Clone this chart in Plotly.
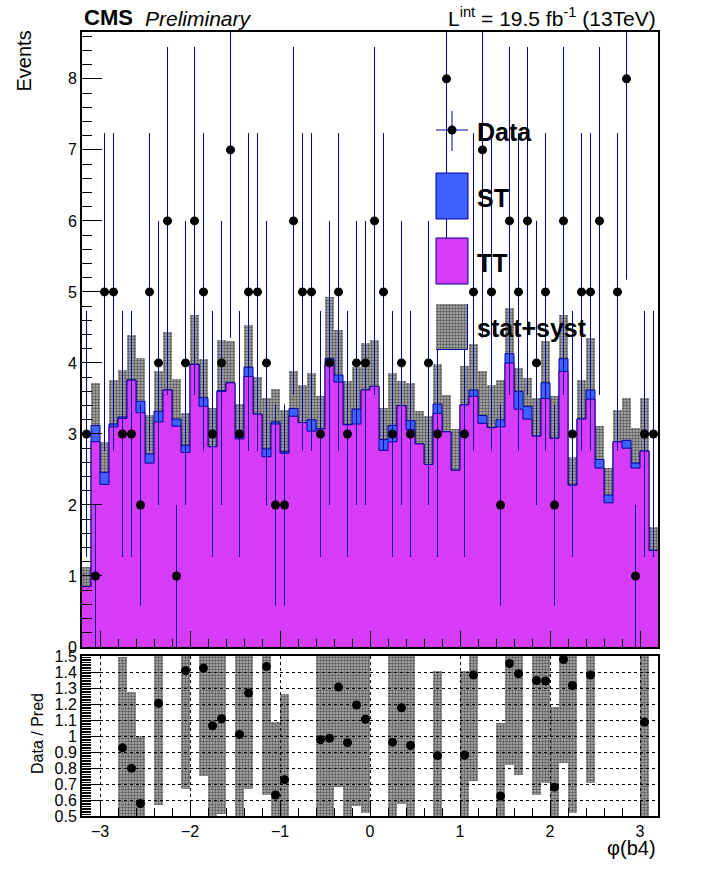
import numpy as np
import plotly.graph_objects as go

W, H = 716, 872

# binning of phi(b4)
x_lo, x_hi, n_bins = -3.2, 3.2, 64

# observed events per bin
data_counts = [3, 1, 5, 5, 3, 3, 2, 5, 4, 6,
               1, 4, 6, 5, 3, 4, 7, 3, 5, 5,
               4, 2, 2, 6, 5, 5, 3, 4, 5, 3,
               4, 4, 6, 5, 3, 4, 3, 0, 4, 3,
               8, 0, 3, 5, 7, 5, 2, 6, 5, 6,
               4, 5, 2, 6, 3, 5, 5, 6, 0, 5,
               8, 1, 3, 3]

# TT prediction per bin
tt_yield = [0.85, 2.89, 2.29, 3.10, 3.22, 3.76, 3.30, 2.59, 3.17, 3.62,
            3.11, 2.74, 3.98, 3.39, 2.82, 3.60, 3.72, 2.93, 3.81, 3.28,
            2.68, 3.14, 2.73, 3.25, 3.16, 3.04, 3.07, 3.98, 3.73, 3.13,
            3.14, 3.62, 3.67, 2.77, 2.89, 3.40, 3.06, 2.86, 2.57, 3.29,
            3.03, 2.49, 3.41, 3.53, 3.15, 3.09, 3.10, 4.00, 3.35, 3.21,
            2.97, 3.50, 2.94, 3.88, 2.28, 3.21, 3.49, 2.52, 2.03, 2.89,
            2.80, 2.52, 2.76, 1.36]

# ST prediction per bin (stacked on TT)
st_yield = [0.00, 0.23, 0.17, 0.04, 0.02, 0.00, 0.16, 0.13, 0.15, 0.00,
            0.10, 0.10, 0.00, 0.12, 0.00, 0.01, 0.00, 0.04, 0.13, 0.00,
            0.11, 0.03, 0.02, 0.11, 0.00, 0.16, 0.00, 0.08, 0.10, 0.00,
            0.21, 0.00, 0.00, 0.15, 0.23, 0.00, 0.13, 0.00, 0.00, 0.13,
            0.00, 0.00, 0.00, 0.09, 0.11, 0.00, 0.10, 0.13, 0.25, 0.18,
            0.00, 0.22, 0.00, 0.18, 0.00, 0.00, 0.13, 0.12, 0.11, 0.00,
            0.11, 0.07, 0.00, 0.00]

# stat+syst uncertainty on the total prediction
mc_unc = [0.28, 0.60, 0.43, 0.62, 0.66, 0.63, 0.61, 0.55, 0.57, 0.82,
          0.56, 0.45, 0.69, 0.54, 0.54, 0.71, 0.59, 0.45, 0.59, 0.52,
          0.71, 0.46, 0.59, 0.53, 0.53, 0.66, 0.47, 0.87, 0.63, 0.62,
          0.59, 0.66, 0.66, 0.44, 0.74, 0.34, 0.53, 0.46, 0.68, 0.56,
          0.52, 0.58, 0.54, 0.64, 0.62, 0.60, 0.56, 0.65, 0.33, 0.40,
          0.53, 0.59, 0.59, 0.62, 0.40, 0.55, 0.73, 0.47, 0.38, 0.45,
          0.60, 0.49, 0.75, 0.33]

ratio_ticks = [0.5, 0.6, 0.7, 0.8, 0.9, 1.0, 1.1, 1.2, 1.3, 1.4, 1.5]
ratio_tick_text = ["0.5", "0.6", "0.7", "0.8", "0.9", "1", "1.1", "1.2", "1.3", "1.4", "1.5"]

FONT = "Liberation Sans, Arial, Helvetica, sans-serif"
C_TT = "#d63cf8"
C_ST = "#3f62ff"
C_LINE = "#00009a"


def px(x):
    # window pixel -> paper coordinate
    return x / W


def py(y):
    return 1 - y / H


edges = np.linspace(x_lo, x_hi, n_bins + 1)
centers = 0.5 * (edges[:-1] + edges[1:])
bw = edges[1] - edges[0]

data = np.array(data_counts, dtype=float)
tt = np.array(tt_yield)
st = np.array(st_yield)
unc = np.array(mc_unc)
total = tt + st

# ROOT-like dotted hatch
pattern = dict(shape=".", fgcolor="black", bgcolor="rgba(0,0,0,0.3)", size=3, solidity=0.5)

fig = go.Figure()

# stacked prediction, drawn as filled step histograms
fig.add_trace(go.Scatter(
    x=edges, y=np.append(total, total[-1]), mode="lines", line_shape="hv",
    line=dict(color=C_LINE, width=1), fill="tozeroy", fillcolor=C_ST,
    hoverinfo="skip", showlegend=False))
fig.add_trace(go.Scatter(
    x=edges, y=np.append(tt, tt[-1]), mode="lines", line_shape="hv",
    line=dict(color=C_LINE, width=1), fill="tozeroy", fillcolor=C_TT,
    hoverinfo="skip", showlegend=False))

# stat+syst band
fig.add_trace(go.Bar(
    x=centers, y=2 * unc, base=total - unc, width=bw,
    marker=dict(color="rgba(0,0,0,0)", line=dict(width=0), pattern=pattern),
    hoverinfo="skip", showlegend=False))

# data
has = data > 0
fig.add_trace(go.Scatter(
    x=centers[has], y=data[has], mode="markers",
    marker=dict(color="black", size=9),
    error_y=dict(type="data", array=np.sqrt(data[has]), color=C_LINE, thickness=1, width=0),
    error_x=dict(type="constant", value=bw / 2, color=C_LINE, thickness=1, width=0),
    showlegend=False))

# ratio panel
ratio = np.where(has, data / total, 0.0)
rel = np.sqrt(np.where(has, 1.0 / np.maximum(data, 1), 0.0) + (unc / total) ** 2)
inr = has & (ratio >= 0.5) & (ratio <= 1.5)
fig.add_trace(go.Bar(
    x=centers[inr], y=2 * ratio[inr] * rel[inr], base=ratio[inr] * (1 - rel[inr]), width=bw,
    marker=dict(color="rgba(0,0,0,0)", line=dict(width=0), pattern=pattern),
    xaxis="x2", yaxis="y2", hoverinfo="skip", showlegend=False))
fig.add_trace(go.Scatter(
    x=centers[inr], y=ratio[inr], mode="markers", marker=dict(color="black", size=9),
    xaxis="x2", yaxis="y2", cliponaxis=False, showlegend=False))

# legend swatch for the band
fig.add_trace(go.Bar(
    x=[0.5], y=[1], width=1,
    marker=dict(color="rgba(0,0,0,0)", line=dict(width=1, color=C_LINE), pattern=pattern),
    xaxis="x3", yaxis="y3", hoverinfo="skip", showlegend=False))

axis_common = dict(showline=True, mirror=True, linecolor="black", linewidth=2,
                   ticks="inside", tickcolor="black", tickwidth=1, zeroline=False,
                   automargin=False, tickfont=dict(family=FONT, size=16, color="black"))

xdom = [px(82), px(658)]

fig.update_layout(
    width=W, height=H, margin=dict(l=0, r=0, t=0, b=0, pad=0, autoexpand=False),
    paper_bgcolor="white", plot_bgcolor="white", showlegend=False,
    barmode="overlay", bargap=0,
    font=dict(family=FONT, color="black"),
    xaxis=dict(domain=xdom, range=[x_lo, x_hi], anchor="y", showticklabels=False,
               dtick=1, tick0=0, ticklen=16, showgrid=False,
               minor=dict(dtick=0.2, tick0=0, ticks="inside", ticklen=8, tickcolor="black", showgrid=False),
               **axis_common),
    yaxis=dict(domain=[py(647), py(32)], range=[0, 8.66], anchor="x",
               dtick=1, ticklen=20, showgrid=False,
               minor=dict(dtick=0.2, ticks="inside", ticklen=10, tickcolor="black", showgrid=False),
               **axis_common),
    xaxis2=dict(domain=xdom, range=[x_lo, x_hi], anchor="y2",
                dtick=1, tick0=0, ticklen=16, showgrid=True, gridcolor="black",
                griddash="dot", gridwidth=1,
                minor=dict(dtick=0.2, tick0=0, ticks="inside", ticklen=8, tickcolor="black", showgrid=False),
                **axis_common),
    yaxis2=dict(domain=[py(816), py(656)], range=[0.5, 1.5], anchor="x2",
                tickvals=ratio_ticks, ticktext=ratio_tick_text, ticklen=18,
                showgrid=True, gridcolor="black", griddash="dot", gridwidth=1,
                minor=dict(dtick=0.01, ticks="inside", ticklen=9, tickcolor="black", showgrid=False),
                **axis_common),
    xaxis3=dict(domain=[px(436), px(468)], range=[0, 1], anchor="y3", visible=False),
    yaxis3=dict(domain=[py(350), py(304)], range=[0, 1], anchor="x3", visible=False),
)

# legend boxes and data symbol
fig.add_shape(type="rect", xref="paper", yref="paper", x0=px(436), x1=px(468), y0=py(219), y1=py(173),
              fillcolor=C_ST, line=dict(color=C_LINE, width=1))
fig.add_shape(type="rect", xref="paper", yref="paper", x0=px(436), x1=px(468), y0=py(284), y1=py(238),
              fillcolor=C_TT, line=dict(color=C_LINE, width=1))
fig.add_shape(type="line", xref="paper", yref="paper", x0=px(436), x1=px(468), y0=py(130), y1=py(130),
              line=dict(color=C_LINE, width=1))
fig.add_shape(type="line", xref="paper", yref="paper", x0=px(452), x1=px(452), y0=py(111), y1=py(151),
              line=dict(color=C_LINE, width=1))
fig.add_shape(type="circle", xref="paper", yref="paper", x0=px(447.5), x1=px(456.5), y0=py(134.5), y1=py(125.5),
              fillcolor="black", line=dict(color="black", width=0))

ann = []
for label, yc in [("Data", 132), ("ST", 198), ("TT", 263), ("stat+syst", 328)]:
    ann.append(dict(text="<b>%s</b>" % label, x=px(475), y=py(yc), xanchor="left", yanchor="middle",
                    font=dict(size=25, family=FONT)))

ann += [
    dict(text="<b>CMS</b>", x=px(82), y=py(32), xanchor="left", yanchor="bottom", font=dict(size=22)),
    dict(text="<i>Preliminary</i>", x=px(143), y=py(32), xanchor="left", yanchor="bottom", font=dict(size=21)),
    dict(text="L<sup>int</sup> = 19.5 fb<sup>-1</sup> (13TeV)", x=px(658), y=py(32),
         xanchor="right", yanchor="bottom", font=dict(size=21)),
    dict(text="Events", x=px(23), y=py(29), xanchor="center", yanchor="top", textangle=-90,
         font=dict(size=20)),
    dict(text="Data / Pred", x=px(37), y=py(734), xanchor="center", yanchor="middle", textangle=-90,
         font=dict(size=16)),
    dict(text="\u03c6(b4)", x=px(658), y=py(848), xanchor="right", yanchor="middle", font=dict(size=20)),
]
for a in ann:
    a.update(xref="paper", yref="paper", showarrow=False)
    a.setdefault("font", {})
    a["font"].setdefault("family", FONT)
    a["font"].setdefault("color", "black")
fig.update_layout(annotations=ann)

# drop the default page margin so the figure fills the window exactly
fig.write_html("out.html", config={"displayModeBar": False},
               post_script="document.body.style.margin='0';document.body.style.overflow='hidden';")
